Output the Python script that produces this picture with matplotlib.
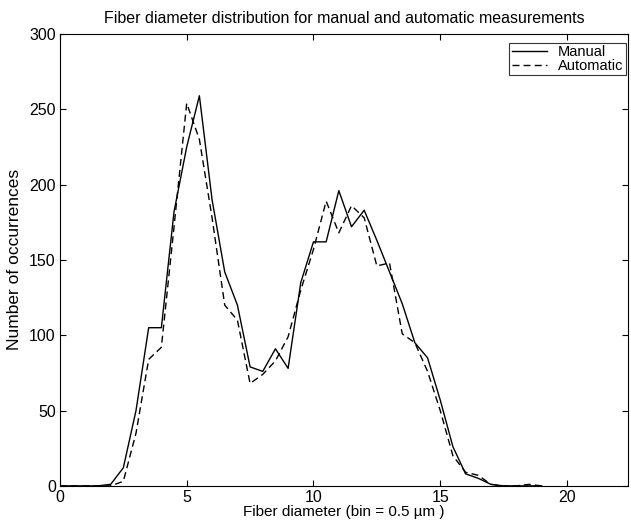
import matplotlib
matplotlib.use("Agg")
import matplotlib.pyplot as plt

plt.rcParams['font.family'] = ['Liberation Sans', 'DejaVu Sans']

diameter = [0.0, 0.5, 1.0, 1.5, 2.0, 2.5, 3.0, 3.5, 4.0, 4.5, 5.0, 5.5, 6.0, 6.5, 7.0,
            7.5, 8.0, 8.5, 9.0, 9.5, 10.0, 10.5, 11.0, 11.5, 12.0, 12.5, 13.0, 13.5,
            14.0, 14.5, 15.0, 15.5, 16.0, 16.5, 17.0, 17.5, 18.0, 18.5, 19.0]
manual = [0, 0, 0, 0, 1, 12, 50, 105, 105, 182, 225, 259, 190, 142, 120,
          79, 76, 91, 78, 135, 162, 162, 196, 172, 183, 163, 142, 121,
          95, 85, 57, 26, 8, 5, 1, 0, 0, 0, 0]
automatic = [0, 0, 0, 0, 0, 3, 35, 84, 92, 172, 254, 230, 178, 120, 110,
             68, 74, 83, 99, 130, 157, 189, 168, 186, 178, 146, 148, 101,
             95, 76, 50, 20, 9, 7, 1, 0, 0, 1, 0]

fig = plt.figure(figsize=(6.31, 5.23), dpi=100)
ax = fig.add_axes([0.095, 0.071, 0.9, 0.864])
ax.plot(diameter, manual, color='black', lw=1.0, ls='-', label='Manual')
ax.plot(diameter, automatic, color='black', lw=1.0, ls=(0, (5, 3)), label='Automatic')

ax.set_xlim(0, 22.4)
ax.set_ylim(0, 300)
ax.set_xticks([0, 5, 10, 15, 20])
ax.set_yticks([0, 50, 100, 150, 200, 250, 300])
ax.tick_params(direction='in', top=True, right=True, length=4, labelsize=11.5, width=0.8, pad=3)
for s in ax.spines.values():
    s.set_linewidth(0.8)

ax.set_title('Fiber diameter distribution for manual and automatic measurements', fontsize=11.5, pad=8)
ax.set_xlabel('Fiber diameter (bin = 0.5 µm )', fontsize=11, labelpad=0)
ax.set_ylabel('Number of occurrences', fontsize=12.5, labelpad=5)

leg = ax.legend(loc='upper right', bbox_to_anchor=(0.9965, 0.980), fontsize=10.5, frameon=True,
                fancybox=False, edgecolor='black', borderpad=0.15, handlelength=2.4,
                handletextpad=0.8, labelspacing=0.0, borderaxespad=0.0)
leg.get_frame().set_linewidth(0.8)

fig.savefig('out.png', dpi=100)
